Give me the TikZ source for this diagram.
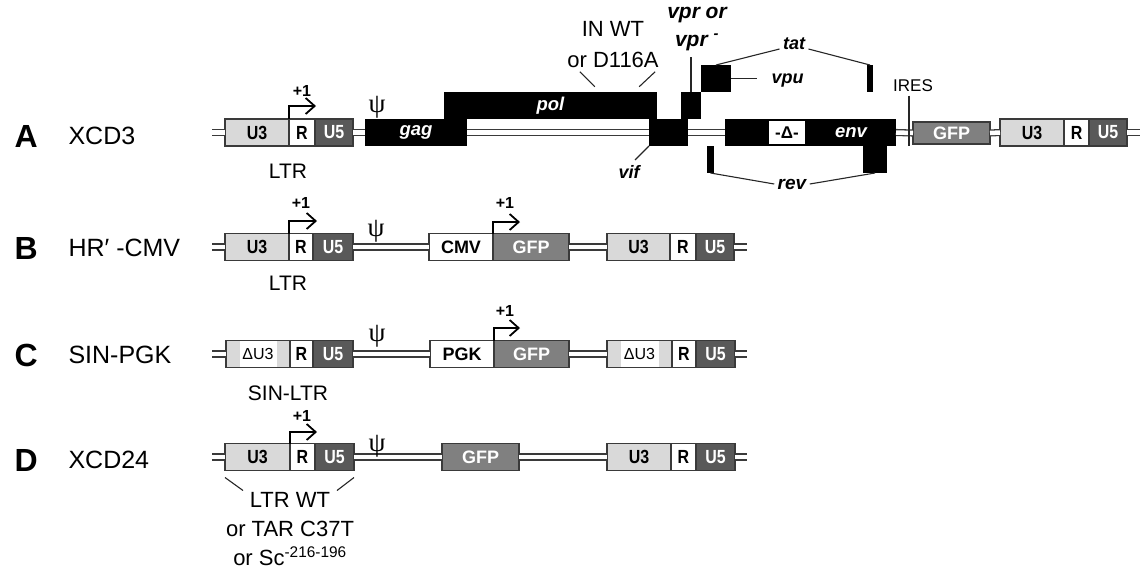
\documentclass[tikz,border=0pt]{standalone}
\usepackage{fontspec}
\setmainfont{Liberation Sans}
\newfontfamily\psifont{Liberation Serif}
\newfontfamily\boxfont[FakeStretch=0.84]{Liberation Sans}
\usepackage{tikz}
\usetikzlibrary{positioning,arrows.meta}
\definecolor{ltrlight}{HTML}{D9D9D9}
\definecolor{ltrdark}{HTML}{595959}
\definecolor{gfpgray}{HTML}{808080}
\definecolor{edge}{HTML}{3A3A3A}

\begin{document}
\begin{tikzpicture}[
  x=1pt, y=1pt,
  seg/.style={rectangle, draw=edge, line width=1.2pt, minimum height=27pt, inner sep=0pt, outer sep=0pt, font=\boxfont\bfseries\fontsize{19}{19}\selectfont},
  u3/.style={seg, fill=ltrlight},
  rr/.style={seg, fill=white},
  u5/.style={seg, fill=ltrdark, text=white},
  sinbox/.style={seg, fill=ltrlight, font=\fontsize{16}{16}\selectfont,
    path picture={\fill[white] ([xshift=14pt]path picture bounding box.south west) rectangle ([xshift=-13pt]path picture bounding box.north east);}},
  gfp/.style={seg, fill=gfpgray, text=white, font=\bfseries\fontsize{18}{18}\selectfont},
  prom/.style={seg, fill=white, font=\bfseries\fontsize{18}{18}\selectfont},
  gene/.style={rectangle, fill=black, inner sep=0pt, outer sep=0pt, minimum height=27pt, text=white, font=\bfseries\itshape\fontsize{18.5}{18.5}\selectfont},
  genelbl/.style={font=\bfseries\itshape\fontsize{18}{18}\selectfont},
  dna/.style={draw=edge, line width=1.3pt, double=white, double distance=4.5pt},
  tss/.style={line width=1.8pt, -{Straight Barb[length=9pt,width=16pt]}},
  lead/.style={line width=1.1pt, draw=black!85},
  rowlbl/.style={anchor=west, font=\bfseries\fontsize{32}{32}\selectfont},
  vecname/.style={anchor=west, font=\fontsize{25}{25}\selectfont},
  plus/.style={font=\bfseries\fontsize{16}{16}\selectfont},
  psi/.style={font=\psifont\fontsize{27}{27}\selectfont},
  note/.style={font=\fontsize{21}{21}\selectfont}
]
\useasboundingbox (0,0) rectangle (1140,-574);

% A  XCD3
\node[rowlbl] (rowA) at (11,-136) {A};
\node[vecname] (xcd3) at (65,-136) {XCD3};
\node[u3, minimum width=64pt] (aU3) at (257,-132.5) {U3};
\node[rr, minimum width=26pt, right=0pt of aU3] (aR) {R};
\node[u5, minimum width=38pt, right=0pt of aR] (aU5) {U5};
\node[gene, minimum width=213pt] (pol) at (550.5,-105.5) {pol};
\node[gene, minimum width=102pt] (gag) at (416,-132.5) {gag};
\node[gene, minimum width=39pt] (vif) at (668.5,-132.5) {};
\node[gene, minimum width=20pt] (vpr) at (691,-105.5) {};
\node[gene, minimum width=30pt] (vpu) at (716,-78.5) {};
\node[gene, minimum width=6pt] (tat2) at (870,-78.5) {};
\node[gene, minimum width=7pt] (rev1) at (710.5,-159.5) {};
\node[gene, minimum width=43pt] (envl) at (746.5,-132.5) {};
\node[rectangle, draw=black, line width=2pt, fill=white, minimum width=38pt, minimum height=25pt, inner sep=0pt, outer sep=0pt,
  font=\bfseries\fontsize{17}{17}\selectfont, right=0pt of envl] (delta) {-Δ-};
\node[gene, minimum width=90pt, right=0pt of delta] (envr) {env};
\node[gene, minimum width=24pt] (rev2) at (875,-159.5) {};
\node[gfp, minimum width=77pt, minimum height=22pt] (gfpA) at (951.5,-133) {GFP};
\node[u3, minimum width=64pt] (a2U3) at (1032,-132.5) {U3};
\node[rr, minimum width=25pt, right=0pt of a2U3] (a2R) {R};
\node[u5, minimum width=38pt, right=0pt of a2R] (a2U5) {U5};
\coordinate (aL) at (212,-132.5);
\coordinate (aE) at (1140,-132.5);
\draw[dna] (aL) -- (aU3.west);
\draw[dna] (aU5.east) -- (gag.west);
\draw[dna] (gag.east) -- (vif.west);
\draw[dna] (vif.east) -- (envl.west);
\draw[dna] (envr.east) -- (gfpA.west);
\draw[dna] (gfpA.east) -- (a2U3.west);
\draw[dna] (a2U5.east) -- (aE);
\node[psi] (psiA) at (377,-107) {ψ};
\coordinate (aT) at (316,-106);
\draw[tss] (aR.north west) |- (aT);
\node[plus] (plusA) at (302,-91) {+1};
\node[note] (ltrA) at (288,-171) {LTR};
\node[align=center, font=\fontsize{22}{31}\selectfont] (inwt) at (613,-45) {IN WT\\or D116A};
\draw[lead] ([xshift=16pt]inwt.south west) -- ++(15,-15);
\draw[lead] ([xshift=-7pt]inwt.south east) -- ++(-16,-15);
\node[align=center, font=\bfseries\itshape\fontsize{21}{28}\selectfont] (vprlbl) at (697,-29) {vpr or\\vpr \textsuperscript{-}};
\draw[lead] (vpr.north) -- ++(0,35);
\node[genelbl] (viflbl) at (629,-171.5) {vif};
\draw[lead] (vif.south west) -- ++(-14,-14);
\node[genelbl, anchor=west] (vpulbl) at (768,-81) {vpu};
\draw[lead] (vpu.east) -- ++(26,0);
\node[genelbl] (tatlbl) at (794,-44) {tat};
\draw[lead] (vpu.north) -- ([yshift=-5pt]tatlbl.west);
\draw[lead] ([yshift=-5pt]tatlbl.east) -- (tat2.north);
\node[genelbl, font=\bfseries\itshape\fontsize{19}{19}\selectfont] (revlbl) at (792,-184) {rev};
\draw[lead] (rev1.south) -- (revlbl.west);
\draw[lead] (revlbl.east) -- (rev2.south);
\node[font=\fontsize{17}{17}\selectfont] (ires) at (913,-86) {IRES};
\draw[lead] ([xshift=-4pt]ires.south) -- ([xshift=-4pt]ires.south |- envr.south);

% B  HR'-CMV
\node[rowlbl] (rowB) at (11,-248) {B};
\node[vecname] (hrcmv) at (65,-248) {HR′ -CMV};
\node[u3, minimum width=64pt] (bU3) at (257,-247) {U3};
\node[rr, minimum width=24pt, right=0pt of bU3] (bR) {R};
\node[u5, minimum width=40pt, right=0pt of bR] (bU5) {U5};
\node[prom, minimum width=64pt] (cmv) at (461,-247) {CMV};
\node[gfp, minimum width=76pt, right=0pt of cmv] (gfpB) {GFP};
\node[u3, minimum width=63pt] (b2U3) at (638.5,-247) {U3};
\node[rr, minimum width=26pt, right=0pt of b2U3] (b2R) {R};
\node[u5, minimum width=38pt, right=0pt of b2R] (b2U5) {U5};
\coordinate (bL) at (212,-247);
\coordinate (bE) at (747,-247);
\draw[dna] (bL) -- (bU3.west);
\draw[dna] (bU5.east) -- (cmv.west);
\draw[dna] (gfpB.east) -- (b2U3.west);
\draw[dna] (b2U5.east) -- (bE);
\node[psi] (psiB) at (376,-231) {ψ};
\coordinate (bT) at (317,-221);
\draw[tss] (bR.north west) |- (bT);
\node[plus] (plusB) at (301,-203) {+1};
\coordinate (bT2) at (520,-222);
\draw[tss] (gfpB.north west) |- (bT2);
\node[plus] (plusB2) at (505,-203) {+1};
\node[note] (ltrB) at (288,-283) {LTR};

% C  SIN-PGK
\node[rowlbl] (rowC) at (11,-355) {C};
\node[vecname] (sinpgk) at (65,-355) {SIN-PGK};
\node[sinbox, minimum width=64pt] (cU3) at (258,-354) {ΔU3};
\node[rr, minimum width=23pt, right=0pt of cU3] (cR) {R};
\node[u5, minimum width=40pt, right=0pt of cR] (cU5) {U5};
\node[prom, minimum width=64pt] (pgk) at (462,-354) {PGK};
\node[gfp, minimum width=75pt, right=0pt of pgk] (gfpC) {GFP};
\node[sinbox, minimum width=65pt] (c2U3) at (639.5,-354) {ΔU3};
\node[rr, minimum width=24pt, right=0pt of c2U3] (c2R) {R};
\node[u5, minimum width=39pt, right=0pt of c2R] (c2U5) {U5};
\coordinate (cL) at (212,-354);
\coordinate (cE) at (747,-354);
\draw[dna] (cL) -- (cU3.west);
\draw[dna] (cU5.east) -- (pgk.west);
\draw[dna] (gfpC.east) -- (c2U3.west);
\draw[dna] (c2U5.east) -- (cE);
\node[psi] (psiC) at (377,-336) {ψ};
\coordinate (cT) at (520,-328);
\draw[tss] (gfpC.north west) |- (cT);
\node[plus] (plusC) at (505,-311) {+1};
\node[note] (sinltr) at (288,-393) {SIN-LTR};

% D  XCD24
\node[rowlbl] (rowD) at (11,-460) {D};
\node[vecname] (xcd24) at (65,-460) {XCD24};
\node[u3, minimum width=65pt] (dU3) at (257.5,-457) {U3};
\node[rr, minimum width=25pt, right=0pt of dU3] (dR) {R};
\node[u5, minimum width=39pt, right=0pt of dR] (dU5) {U5};
\node[gfp, minimum width=77pt] (gfpD) at (480.5,-457) {GFP};
\node[u3, minimum width=64pt] (d2U3) at (639,-457) {U3};
\node[rr, minimum width=25pt, right=0pt of d2U3] (d2R) {R};
\node[u5, minimum width=39pt, right=0pt of d2R] (d2U5) {U5};
\coordinate (dL) at (212,-457);
\coordinate (dE) at (747,-457);
\draw[dna] (dL) -- (dU3.west);
\draw[dna] (dU5.east) -- (gfpD.west);
\draw[dna] (gfpD.east) -- (d2U3.west);
\draw[dna] (d2U5.east) -- (dE);
\node[psi] (psiD) at (377,-446) {ψ};
\coordinate (dT) at (317,-432);
\draw[tss] (dR.north west) |- (dT);
\node[plus] (plusD) at (302,-416) {+1};
\node[align=center, font=\fontsize{22}{29}\selectfont] (ltrwt) at (290,-529) {LTR WT\\or TAR C37T\\or Sc\textsuperscript{-216-196}};
\draw[lead] ([yshift=-7pt]dU3.south west) -- ++(18,-13);
\draw[lead] ([yshift=-7pt]dU5.south east) -- ++(-17,-13);

\end{tikzpicture}
\end{document}
